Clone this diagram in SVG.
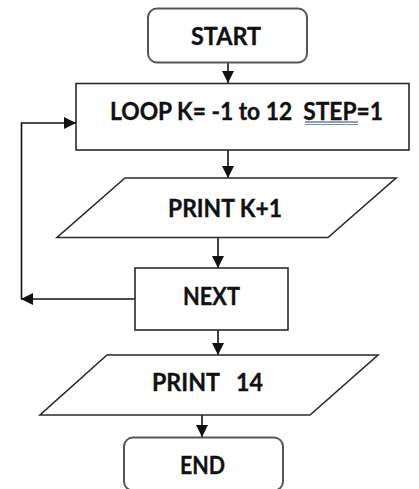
<svg xmlns="http://www.w3.org/2000/svg" width="419" height="489" viewBox="0 0 419 489">
  <defs>
    <marker id="arrow" viewBox="0 0 12 12" refX="12" refY="6" markerWidth="12" markerHeight="12" markerUnits="userSpaceOnUse" orient="auto">
      <path d="M0,0 L12,6 L0,12 Z" fill="#111"/>
    </marker>
    <style>
      .box { fill: #fff; stroke: #2a2a2a; stroke-width: 1.6; }
      .term { fill: #fff; stroke: #555; stroke-width: 2; }
      .label { font-family: Lato, "Open Sans", "Liberation Sans", sans-serif; font-weight: bold; font-size: 24px; fill: #111; stroke: #111; stroke-width: 0.35; }
      .conn { fill: none; stroke: #111; stroke-width: 1.6; }
    </style>
  </defs>
  <rect width="419" height="489" fill="#fff"/>

  <g id="connectors">
    <path class="conn" d="M228,63 V83" marker-end="url(#arrow)"/>
    <path class="conn" d="M228,150 V178" marker-end="url(#arrow)"/>
    <path class="conn" d="M218,238 V268" marker-end="url(#arrow)"/>
    <path class="conn" d="M218,330 V355" marker-end="url(#arrow)"/>
    <path class="conn" d="M202,415 V437" marker-end="url(#arrow)"/>
    <path class="conn" d="M135,299 H21" marker-end="url(#arrow)"/>
    <path class="conn" d="M21.5,299 V123 H76" marker-end="url(#arrow)"/>
  </g>

  <g id="start">
    <rect class="term" x="148" y="8.5" width="159" height="54" rx="9"/>
    <text class="label" x="191" y="45" textLength="70" lengthAdjust="spacingAndGlyphs">START</text>
  </g>

  <g id="loop">
    <rect class="box" x="76" y="83.5" width="333" height="66.5"/>
    <text class="label" x="110" y="120" textLength="273" lengthAdjust="spacingAndGlyphs" xml:space="preserve">LOOP K= -1 to 12  STEP=1</text>
    <line x1="305" y1="122" x2="358" y2="122" stroke="#2d3a78" stroke-width="1.2"/>
    <line x1="305" y1="124.5" x2="358" y2="124.5" stroke="#6a8ad0" stroke-width="1.2"/>
  </g>

  <g id="print-k">
    <polygon class="box" points="125,178 396,178 328,237.5 57,237.5"/>
    <text class="label" x="168" y="216.5" textLength="114" lengthAdjust="spacingAndGlyphs">PRINT K+1</text>
  </g>

  <g id="next">
    <rect class="box" x="135" y="268" width="153" height="62"/>
    <text class="label" x="183" y="305" textLength="57" lengthAdjust="spacingAndGlyphs">NEXT</text>
  </g>

  <g id="print-14">
    <polygon class="box" points="107,355 378,355 310,415 40,415"/>
    <text class="label" x="152" y="391" textLength="111" lengthAdjust="spacingAndGlyphs" xml:space="preserve">PRINT   14</text>
  </g>

  <g id="end">
    <rect class="term" x="124" y="437.5" width="159" height="53" rx="9"/>
    <text class="label" x="180" y="474" textLength="45" lengthAdjust="spacingAndGlyphs">END</text>
  </g>
</svg>
